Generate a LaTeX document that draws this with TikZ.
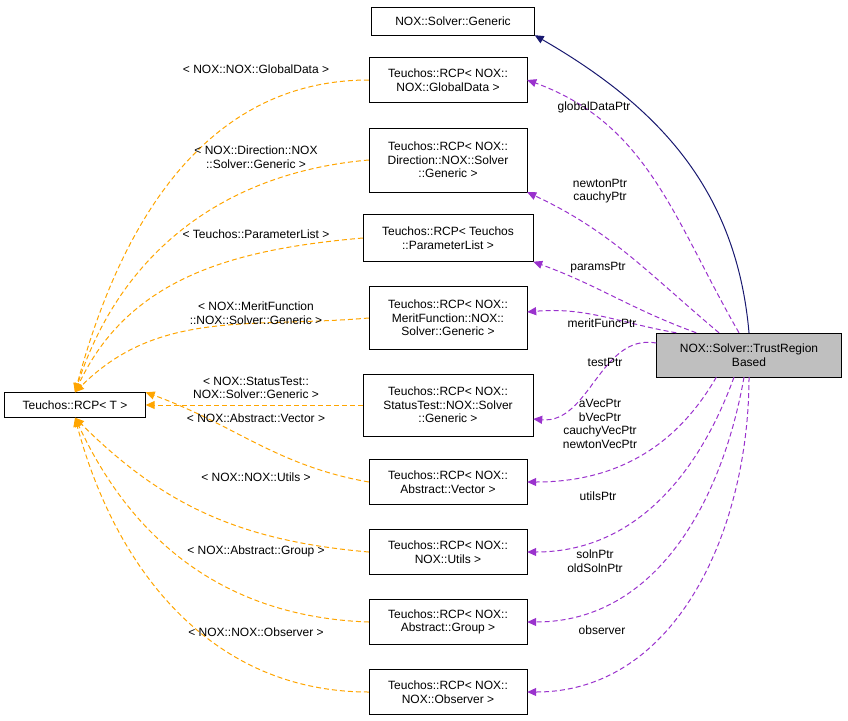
\documentclass[tikz,border=0pt]{standalone}
\usepackage{fontspec}
\setmainfont{Liberation Sans}
\usetikzlibrary{arrows.meta}
\definecolor{navyc}{RGB}{25,25,112}
\definecolor{purp}{RGB}{154,50,205}
\definecolor{grayf}{RGB}{191,191,191}
\definecolor{orangec}{RGB}{255,165,0}
\begin{document}
\begin{tikzpicture}[x=1pt,y=-1pt,
  box/.style={draw,fill=white,align=center,inner sep=2pt,font=\fontsize{12}{13.5}\selectfont},
  lab/.style={align=center,font=\fontsize{12}{13.5}\selectfont},
  inh/.style={draw=navyc,line width=1pt,-{Triangle[length=9pt,width=8pt]}},
  use/.style={draw=purp,line width=1pt,dash pattern=on 5pt off 3pt,-{Triangle[length=9pt,width=8pt]}},
  tpl/.style={draw=orangec,line width=1pt,dash pattern=on 5pt off 3pt,-{Triangle[length=9pt,width=8pt]}}]
\useasboundingbox (0,0) rectangle (848,720);
\node[box,minimum width=163,minimum height=28] (gen) at (453,21) {NOX::Solver::Generic};
\node[box,minimum width=158,minimum height=45] (gd) at (448,80) {Teuchos::RCP< NOX::\\NOX::GlobalData >};
\node[box,minimum width=158,minimum height=64] (dir) at (448,160) {Teuchos::RCP< NOX::\\Direction::NOX::Solver\\::Generic >};
\node[box,minimum width=170,minimum height=47] (pl) at (448,238) {Teuchos::RCP< Teuchos\\::ParameterList >};
\node[box,minimum width=158,minimum height=63] (mf) at (448,318) {Teuchos::RCP< NOX::\\MeritFunction::NOX::\\Solver::Generic >};
\node[box,minimum width=170,minimum height=62] (st) at (448,405) {Teuchos::RCP< NOX::\\StatusTest::NOX::Solver\\::Generic >};
\node[box,minimum width=158,minimum height=45] (vec) at (448,482) {Teuchos::RCP< NOX::\\Abstract::Vector >};
\node[box,minimum width=158,minimum height=45] (ut) at (448,552) {Teuchos::RCP< NOX::\\NOX::Utils >};
\node[box,minimum width=158,minimum height=45] (grp) at (448,622) {Teuchos::RCP< NOX::\\Abstract::Group >};
\node[box,minimum width=158,minimum height=45] (obs) at (448,692) {Teuchos::RCP< NOX::\\NOX::Observer >};
\node[box,fill=grayf,minimum width=185,minimum height=44] (tr) at (749,355) {NOX::Solver::TrustRegion\\Based};
\node[box,minimum width=141,minimum height=25] (t) at (75,405) {Teuchos::RCP< T >};

\draw[inh] (tr.north) to[out=95,in=-30] (gen.south east);
\draw[use] ([xshift=-10pt]tr.north) to[out=120,in=-20] (gd.east);
\draw[use] ([xshift=-30pt]tr.north) to[out=140,in=-25] (dir.south east);
\draw[use] ([xshift=40pt]tr.north west) to[out=160,in=-20] (pl.south east);
\draw[use] ([xshift=20pt]tr.north west) to[out=170,in=5] ([yshift=6pt]mf.east);
\draw[use] ([yshift=12pt]tr.west) to[out=170,in=-5] ([yshift=-14pt]st.east);
\draw[use] ([xshift=60pt]tr.south west) to[out=-120,in=0] (vec.east);
\draw[use] ([xshift=-15pt]tr.south) to[out=-110,in=0] (ut.east);
\draw[use] ([xshift=-5pt]tr.south) to[out=-100,in=0] (grp.east);
\draw[use] (tr.south) to[out=-90,in=0] (obs.east);

\node[lab] (l1) at (594,107) {globalDataPtr};
\node[lab] (l2) at (600,191) {newtonPtr\\cauchyPtr};
\node[lab] (l3) at (598,268) {paramsPtr};
\node[lab] (l4) at (602,323) {meritFuncPtr};
\node[lab] (l5) at (605,362) {testPtr};
\node[lab] (l6) at (600,424) {aVecPtr\\bVecPtr\\cauchyVecPtr\\newtonVecPtr};
\node[lab] (l7) at (598,496) {utilsPtr};
\node[lab] (l8) at (595,561) {solnPtr\\oldSolnPtr};
\node[lab] (l9) at (602,630) {observer};

\draw[tpl] (gd.west) to[out=180,in=75] (t.north);
\draw[tpl] (dir.west) to[out=185,in=72] (t.north);
\draw[tpl] (pl.west) to[out=185,in=65] (t.north);
\draw[tpl] (mf.west) to[out=185,in=45] (t.north);
\draw[tpl] (st.west) to (t.east);
\draw[tpl] (vec.west) to[out=170,in=-20] (t.north east);
\draw[tpl] (ut.west) to[out=175,in=-45] (t.south);
\draw[tpl] (grp.west) to[out=178,in=-65] (t.south);
\draw[tpl] (obs.west) to[out=180,in=-75] (t.south);

\node[lab] (o1) at (256,69) {< NOX::NOX::GlobalData >};
\node[lab] (o2) at (256,157) {< NOX::Direction::NOX\\::Solver::Generic >};
\node[lab] (o3) at (256,234) {< Teuchos::ParameterList >};
\node[lab] (o4) at (256,313) {< NOX::MeritFunction\\::NOX::Solver::Generic >};
\node[lab] (o5) at (256,388) {< NOX::StatusTest::\\NOX::Solver::Generic >};
\node[lab] (o6) at (256,418) {< NOX::Abstract::Vector >};
\node[lab] (o7) at (256,477) {< NOX::NOX::Utils >};
\node[lab] (o8) at (256,551) {< NOX::Abstract::Group >};
\node[lab] (o9) at (256,632) {< NOX::NOX::Observer >};
\end{tikzpicture}
\end{document}
